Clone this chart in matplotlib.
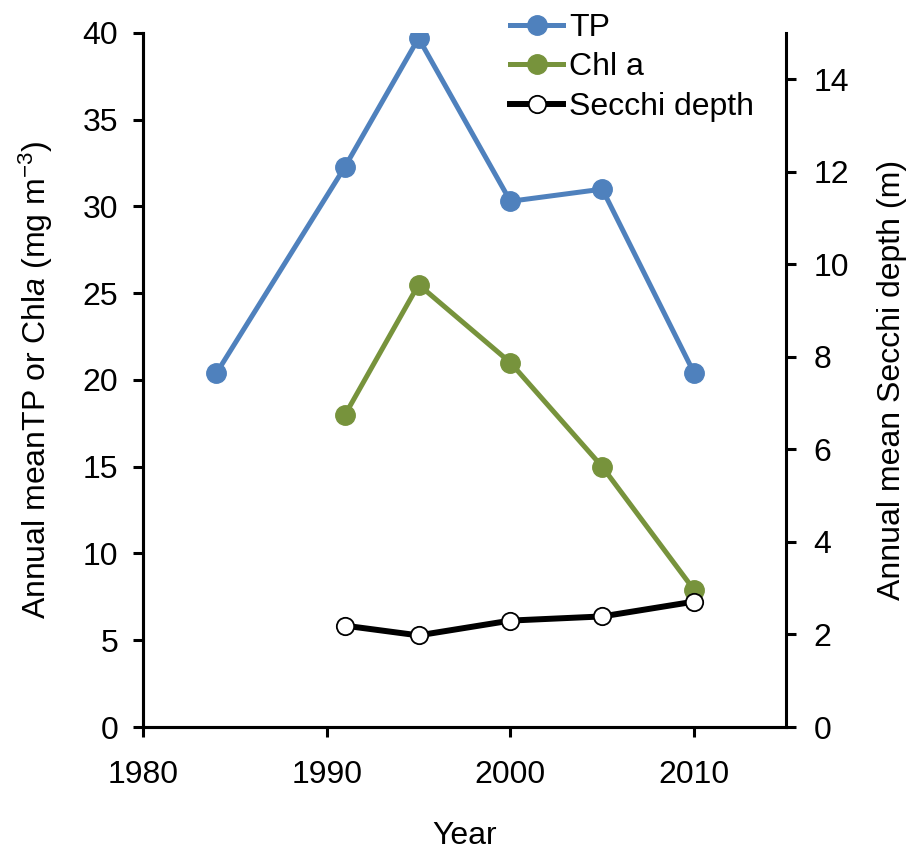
import matplotlib
matplotlib.use('Agg')
import matplotlib.pyplot as plt

plt.rcParams['font.family'] = ['Liberation Sans', 'DejaVu Sans']
plt.rcParams['mathtext.fontset'] = 'custom'
plt.rcParams['mathtext.rm'] = 'Liberation Sans'
plt.rcParams['mathtext.it'] = 'Liberation Sans:italic'

# Annual means
tp_years = [1984, 1991, 1995, 2000, 2005, 2010]
tp = [20.4, 32.3, 39.7, 30.3, 31.0, 20.4]

chl_years = [1991, 1995, 2000, 2005, 2010]
chl = [18.0, 25.5, 21.0, 15.0, 7.9]

secchi_years = [1991, 1995, 2000, 2005, 2010]
secchi = [2.19, 1.98, 2.30, 2.39, 2.71]

blue = '#4F81BD'
green = '#77933C'
fs = 23

fig = plt.figure(figsize=(9.08, 8.5), dpi=100)
ax = fig.add_axes([0.1575, 0.1447, 0.7081, 0.8165])
ax2 = ax.twinx()

l1, = ax.plot(tp_years, tp, '-o', color=blue, lw=3.6, ms=14, label='TP')
l2, = ax.plot(chl_years, chl, '-o', color=green, lw=3.6, ms=14, label='Chl a')
l3, = ax2.plot(secchi_years, secchi, '-o', color='black', lw=4.3, ms=12.5,
               mfc='white', mec='black', mew=1.3, label='Secchi depth')

ax.set_xlim(1980, 2015)
ax.set_ylim(0, 40)
ax2.set_ylim(0, 15)
ax.set_xticks([1980, 1990, 2000, 2010])
ax.set_yticks(range(0, 41, 5))
ax2.set_yticks(range(0, 15, 2))

for a in (ax, ax2):
    for s in a.spines.values():
        s.set_linewidth(2.2)
    a.spines['top'].set_visible(False)
    a.tick_params(width=2.2, length=7, labelsize=fs, pad=11)
ax.spines['right'].set_visible(False)
ax.tick_params(axis='x', pad=17)
ax2.tick_params(axis='y', pad=13)

ax.set_xlabel('Year', fontsize=fs, labelpad=22)
ax.set_ylabel('Annual meanTP or Chl$\\it{a}$ (mg m$^{-3}$)', fontsize=fs, labelpad=20)
ax2.set_ylabel('Annual mean Secchi depth (m)', fontsize=fs, labelpad=20)

fig.legend(handles=[l1, l2, l3], loc='upper left', bbox_to_anchor=(0.548, 1.0),
           frameon=False, fontsize=fs, handlelength=1.65, handletextpad=0.2,
           labelspacing=0.3, borderaxespad=0)

fig.savefig('out.png', dpi=100)
